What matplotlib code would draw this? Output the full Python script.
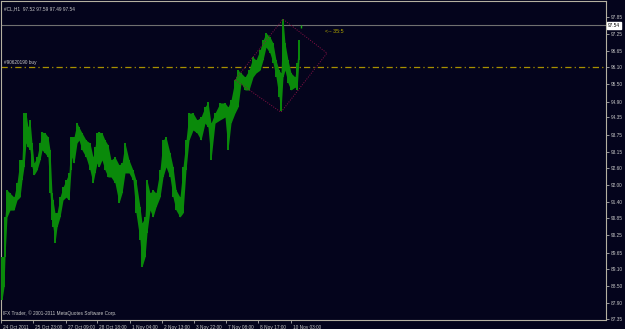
import numpy as np
import matplotlib
matplotlib.use("Agg")
import matplotlib.pyplot as plt
import matplotlib.transforms as mtransforms

# barras (indice da barra H1), maximas e minimas
bar_idx = [2, 4, 5, 7, 10, 14, 17, 20, 22, 24, 26, 28, 30, 32, 34, 37, 40, 42, 45, 48,
           50, 52, 53, 55, 57, 60, 63, 66, 69, 71, 72, 74, 77, 79, 82, 86, 90, 93, 95, 97,
           99, 102, 105, 108, 111, 115, 119, 122, 125, 129, 133, 136, 140, 142, 145, 147, 150, 153, 156, 160,
           163, 166, 170, 173, 176, 180, 183, 186, 189, 193, 197, 201, 205, 208, 211, 215, 220, 225, 228, 231,
           235, 238, 241, 245, 249, 253, 256, 260, 263, 266, 270, 273, 276, 279, 281, 283, 285, 288, 291, 295,
           297, 299, 301]
highs = [89.50, 89.50, 90.89, 91.83, 91.72, 91.58, 92.07, 92.87, 92.87, 94.50, 94.50, 94.01, 94.26, 93.46, 92.76, 92.97, 93.46, 93.84, 93.81, 93.67,
         93.22, 91.72, 91.48, 91.03, 91.03, 91.58, 91.93, 92.17, 92.42, 93.67, 93.67, 93.67, 94.15, 94.01, 93.81, 93.56, 93.46, 92.97, 93.32, 93.81,
         93.84, 93.81, 93.56, 93.39, 92.87, 92.97, 92.70, 92.76, 93.46, 92.87, 92.52, 92.17, 91.24, 90.68, 90.89, 92.17, 91.72, 91.83, 91.72, 92.52,
         93.56, 93.67, 93.11, 92.63, 91.83, 91.58, 92.63, 93.56, 94.50, 94.50, 94.26, 94.36, 94.71, 94.88, 94.15, 94.50, 94.85, 94.85, 94.71, 94.95,
         95.65, 95.99, 95.89, 95.75, 95.99, 96.44, 96.34, 96.69, 97.03, 97.28, 97.14, 96.93, 96.34, 95.99, 95.89, 97.76, 96.93, 96.34, 95.89, 95.75,
         96.24, 97.03, 97.55]
lows = [88.01, 88.46, 89.50, 90.89, 91.13, 91.13, 91.48, 91.58, 92.17, 92.63, 93.46, 93.32, 93.22, 92.63, 92.35, 92.52, 92.87, 93.22, 93.11, 92.97,
        91.72, 90.79, 90.54, 89.99, 90.54, 90.89, 91.48, 91.58, 91.48, 92.52, 92.97, 92.76, 93.46, 93.56, 93.22, 92.97, 92.52, 92.07, 92.42, 92.76,
        92.63, 92.87, 92.52, 92.28, 92.28, 92.07, 91.38, 91.72, 92.42, 92.42, 92.17, 91.03, 90.09, 89.16, 89.50, 90.34, 91.13, 90.89, 91.24, 91.58,
        92.28, 92.63, 92.28, 91.58, 91.13, 90.89, 91.03, 92.52, 93.56, 93.91, 93.81, 93.56, 94.15, 94.01, 92.87, 94.15, 94.26, 94.36, 93.22, 94.15,
        94.50, 94.71, 95.54, 95.30, 95.30, 95.75, 95.89, 95.99, 96.34, 96.79, 96.58, 96.24, 95.75, 95.06, 94.57, 95.75, 95.99, 95.54, 95.30, 95.40,
        95.30, 96.34, 97.45]

yticks = [87.35, 87.90, 88.50, 89.10, 89.65, 90.25, 90.85, 91.40, 92.00, 92.60,
          93.15, 93.75, 94.35, 94.90, 95.50, 96.10, 96.65, 97.25, 97.85]
xtick_pos = [1, 33, 66, 97, 130, 162, 194, 226, 258, 291]
xtick_lbl = ["24 Oct 2011", "25 Oct 23:00", "27 Oct 09:00", "28 Oct 18:00", "1 Nov 04:00",
             "2 Nov 13:00", "3 Nov 22:00", "7 Nov 08:00", "8 Nov 17:00", "10 Nov 03:00"]

bid = 97.54
order_price = 96.10
# desenho (losango) - pontos (barra, preco)
shape_x = [235, 283, 327, 281, 235]
shape_y = [95.65, 97.76, 96.58, 94.53, 95.65]

bg = "#04041c"
txt = "#c8c8c8"
green = "#0a8a0a"
fs = 3.4
plt.rcParams["font.family"] = ["Liberation Sans", "DejaVu Sans"]

fig = plt.figure(figsize=(6.25, 3.29), dpi=100, facecolor=bg)
ax = fig.add_axes([1 / 625, 9 / 329, 605 / 625, 319 / 329], facecolor=bg)

x = np.array(bar_idx, dtype=float)
h = np.array(highs)
l = np.array(lows)
# faixa entre minima e maxima + barras verticais (ultima barra fica separada)
ax.fill_between(x[:-1], l[:-1], h[:-1], color=green, lw=0, zorder=3)
ax.vlines(x[:-1], l[:-1], h[:-1], color=green, lw=1.4, zorder=3)
ax.vlines(x[-1], l[-1], h[-1], color="#14a814", lw=1.0, zorder=4)

ax.axhline(bid, color="#707070", lw=0.8, zorder=2)
ax.axhline(order_price, color="#a89000", lw=0.9, dashes=(5, 2.5, 1, 2.5), zorder=2)
ax.plot(shape_x, shape_y, color="#8a1046", lw=0.7, ls=(0, (1, 1.5)), zorder=4)

ax.text(4, order_price + 0.08, "#90620190 buy", color=txt, fontsize=fs, va="bottom")
ax.text(325, 97.32, "<-- 35:5", color="#b4a800", fontsize=fs + 0.4, va="center")
ax.text(0.005, 0.985, "#CL,H1  97.52 97.59 97.49 97.54", transform=ax.transAxes,
        color=txt, fontsize=fs, va="top")
ax.text(0.004, 0.012, "IFX Trader, \u00a9 2001-2011 MetaQuotes Software Corp.",
        transform=ax.transAxes, color=txt, fontsize=fs, va="bottom")

trans = mtransforms.blended_transform_factory(ax.transAxes, ax.transData)
ax.text(1.003, bid, "97.54", transform=trans, color="black", fontsize=fs, va="center", ha="left",
        bbox=dict(boxstyle="square,pad=0.15", fc="white", ec="white"), zorder=6)

ax.set_xlim(1, 606)
ax.set_ylim(87.315, 98.39)
ax.yaxis.tick_right()
ax.set_yticks(yticks)
ax.set_yticklabels(["%.2f" % v for v in yticks])
ax.set_xticks(xtick_pos)
ax.set_xticklabels(xtick_lbl)
ax.tick_params(colors="#b0b0b0", labelcolor=txt, labelsize=fs, length=2, width=0.6, pad=1.5)
off = mtransforms.ScaledTranslation(2 / 100, 0, fig.dpi_scale_trans)
for lab in ax.get_xticklabels():
    lab.set_ha("left")
    lab.set_transform(lab.get_transform() + off)
for s in ax.spines.values():
    s.set_color("#b4b0a0")
    s.set_linewidth(0.8)

fig.savefig("out.png", dpi=100, facecolor=bg)
